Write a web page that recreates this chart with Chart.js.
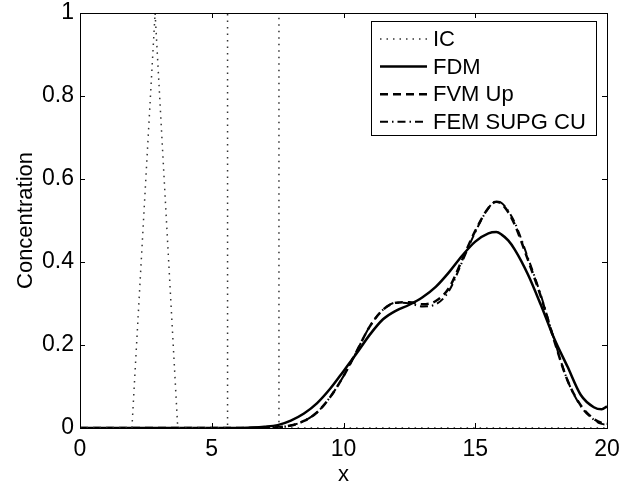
<!DOCTYPE html>
<html>
<head>
<meta charset="utf-8">
<script src="https://cdn.jsdelivr.net/npm/chart.js@4.4.0/dist/chart.umd.min.js"></script>
<style>
  html, body { margin: 0; padding: 0; background: #fff; }
</style>
</head>
<body>
<canvas id="chart" width="622" height="484"></canvas>
<script>
// initial condition (piecewise: triangle + box)
const icX = [0, 1.97, 2.85, 3.71, 5.6, 5.6, 7.55, 7.55, 20];
const icY = [0, 0, 1, 0, 0, 1, 1, 0, 0];

// solution curves, sampled along x
const xs = [0, 1, 2, 3, 4, 5, 6, 6.5, 7, 7.5, 8, 8.5, 9, 9.5, 10, 10.5, 11, 11.5, 12, 12.5,
            13, 13.5, 14, 14.5, 15, 15.5, 15.8, 16, 16.25, 16.5, 17, 17.5, 18, 18.5, 19, 19.5, 19.8, 20];
const fdm = [0, 0, 0, 0, 0, 0, 0, 0.001, 0.003, 0.007, 0.018, 0.035, 0.06, 0.095, 0.137, 0.18, 0.225, 0.262, 0.283, 0.297,
             0.315, 0.34, 0.375, 0.415, 0.449, 0.469, 0.472, 0.466, 0.452, 0.43, 0.37, 0.295, 0.215, 0.148, 0.08, 0.05, 0.045, 0.052];
const fvmUp = [0, 0, 0, 0, 0, 0, 0, 0, 0, 0.002, 0.006, 0.017, 0.038, 0.075, 0.125, 0.185, 0.245, 0.285, 0.302, 0.303,
               0.298, 0.306, 0.337, 0.405, 0.475, 0.53, 0.545, 0.54, 0.52, 0.49, 0.405, 0.315, 0.21, 0.115, 0.055, 0.022, 0.012, 0.01];
const femSupg = [0, 0, 0, 0, 0, 0, 0, 0, 0, 0.002, 0.006, 0.017, 0.038, 0.075, 0.125, 0.185, 0.245, 0.285, 0.302, 0.3,
                 0.293, 0.298, 0.33, 0.4, 0.472, 0.53, 0.546, 0.542, 0.523, 0.495, 0.41, 0.318, 0.212, 0.115, 0.053, 0.02, 0.01, 0.008];

const xTicks = [0, 5, 10, 15, 20];
const yTicks = [0, 0.2, 0.4, 0.6, 0.8, 1];

const FONT = '"Liberation Sans", Arial, Helvetica, sans-serif';

function pts(xv, yv) {
    return xv.map((x, i) => ({ x: x, y: yv[i] }));
}

// box around the axes with inward tick marks (matlab style)
const framePlugin = {
    id: 'frame',
    afterDatasetsDraw(chart) {
        const { ctx, chartArea: a, scales } = chart;
        ctx.save();
        ctx.strokeStyle = '#000';
        ctx.lineWidth = 1;
        ctx.setLineDash([]);
        ctx.strokeRect(Math.round(a.left) + 0.5, Math.round(a.top) + 0.5,
                       Math.round(a.right - a.left), Math.round(a.bottom - a.top));
        const len = 5;
        ctx.beginPath();
        xTicks.forEach(v => {
            const px = Math.round(scales.x.getPixelForValue(v)) + 0.5;
            ctx.moveTo(px, a.bottom); ctx.lineTo(px, a.bottom - len);
            ctx.moveTo(px, a.top); ctx.lineTo(px, a.top + len);
        });
        yTicks.forEach(v => {
            const py = Math.round(scales.y.getPixelForValue(v)) + 0.5;
            ctx.moveTo(a.left, py); ctx.lineTo(a.left + len, py);
            ctx.moveTo(a.right, py); ctx.lineTo(a.right - len, py);
        });
        ctx.stroke();
        ctx.restore();
    }
};

// legend box in the upper right corner
const legendPlugin = {
    id: 'boxLegend',
    afterDraw(chart) {
        const ctx = chart.ctx;
        ctx.save();
        ctx.fillStyle = '#fff';
        ctx.fillRect(371.5, 21.5, 225, 114);
        ctx.strokeStyle = '#000';
        ctx.lineWidth = 1;
        ctx.setLineDash([]);
        ctx.strokeRect(371.5, 21.5, 225, 114);
        ctx.font = '22px ' + FONT;
        ctx.textBaseline = 'middle';
        chart.data.datasets.forEach((ds, i) => {
            const y = 39 + i * 27.6;
            ctx.strokeStyle = ds.borderColor;
            ctx.lineWidth = ds.borderWidth;
            ctx.setLineDash(ds.borderDash || []);
            ctx.beginPath();
            ctx.moveTo(380, y);
            ctx.lineTo(427, y);
            ctx.stroke();
            ctx.setLineDash([]);
            ctx.fillStyle = '#000';
            ctx.fillText(ds.label, 433, y + 1);
        });
        ctx.restore();
    }
};

new Chart(document.getElementById('chart'), {
    type: 'line',
    data: {
        datasets: [
            {
                label: 'IC',
                data: pts(icX, icY),
                borderColor: '#333',
                borderWidth: 1.5,
                borderDash: [1.5, 5],
                pointRadius: 0,
                tension: 0
            },
            {
                label: 'FDM',
                data: pts(xs, fdm),
                borderColor: '#000',
                borderWidth: 2.5,
                pointRadius: 0,
                cubicInterpolationMode: 'monotone'
            },
            {
                label: 'FVM Up',
                data: pts(xs, fvmUp),
                borderColor: '#000',
                borderWidth: 2.5,
                borderDash: [8, 5],
                pointRadius: 0,
                cubicInterpolationMode: 'monotone'
            },
            {
                label: 'FEM SUPG CU',
                data: pts(xs, femSupg),
                borderColor: '#000',
                borderWidth: 2,
                borderDash: [8, 4, 1.5, 4],
                pointRadius: 0,
                cubicInterpolationMode: 'monotone'
            }
        ]
    },
    options: {
        responsive: false,
        animation: false,
        layout: { padding: { left: 0, right: 15, top: 13, bottom: 0 } },
        plugins: {
            legend: { display: false },
            tooltip: { enabled: false }
        },
        scales: {
            x: {
                type: 'linear',
                min: 0,
                max: 20,
                afterFit: s => { s.height = 56; s.paddingRight = 0; s.paddingLeft = 0; },
                afterBuildTicks: s => { s.ticks = xTicks.map(v => ({ value: v })); },
                grid: { display: false, drawTicks: false },
                border: { display: false },
                ticks: { color: '#000', padding: 8, font: { family: FONT, size: 23 } },
                title: {
                    display: true, text: 'x', color: '#000',
                    padding: { top: 0, bottom: -4 },
                    font: { family: FONT, size: 22 }
                }
            },
            y: {
                min: 0,
                max: 1,
                afterFit: s => { s.width = 80; s.paddingTop = 0; s.paddingBottom = 0; },
                afterBuildTicks: s => { s.ticks = yTicks.map(v => ({ value: v })); },
                grid: { display: false, drawTicks: false },
                border: { display: false },
                ticks: {
                    color: '#000', padding: 6, font: { family: FONT, size: 23 },
                    callback: v => String(Math.round(v * 10) / 10)
                },
                title: {
                    display: true, text: 'Concentration', color: '#000',
                    padding: { top: 13, bottom: 0 },
                    font: { family: FONT, size: 22 }
                }
            }
        }
    },
    plugins: [framePlugin, legendPlugin]
});
</script>
</body>
</html>
